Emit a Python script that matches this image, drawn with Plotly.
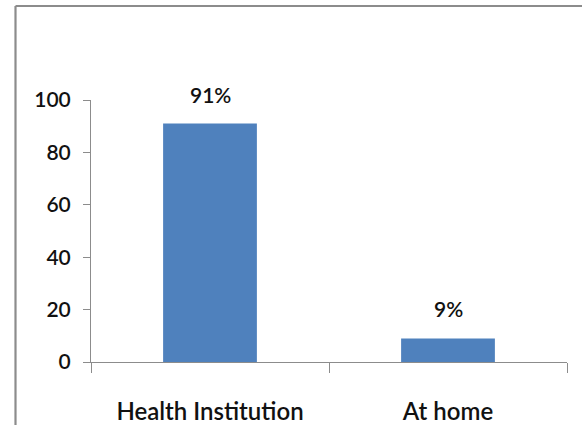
import plotly.graph_objects as go

# Place of delivery, share of respondents (%)
categories = ["Health Institution", "At home"]
values = [91, 9]
value_labels = ["91%", "9%"]
y_ticks = [0, 20, 40, 60, 80, 100]

BAR_COLOR = "#4F81BD"
AXIS_COLOR = "#8C8C8C"
TEXT_COLOR = "#111111"
FONT = "Lato, Liberation Sans, Arial, sans-serif"

W, H = 582, 425
ML, MR, MT, MB = 91, 15, 100, 63
PW, PH = W - ML - MR, H - MT - MB


def px_x(px):
    return (px - ML) / PW


def px_y(py):
    return (H - MB - py) / PH


fig = go.Figure(
    go.Bar(
        x=categories,
        y=values,
        marker=dict(color=BAR_COLOR, line=dict(width=0)),
        hoverinfo="skip",
    )
)

for cat, val, lab in zip(categories, values, value_labels):
    fig.add_annotation(
        x=cat, y=val, text=lab, showarrow=False,
        yanchor="bottom", yshift=15,
        font=dict(family=FONT, size=21, color=TEXT_COLOR, weight=600),
    )

# chart frame (left and top edges)
fig.add_shape(type="line", xref="paper", yref="paper",
              x0=px_x(15.5), x1=px_x(15.5), y0=px_y(6), y1=px_y(430),
              line=dict(color=AXIS_COLOR, width=2.2))
fig.add_shape(type="line", xref="paper", yref="paper",
              x0=px_x(15.5), x1=px_x(590), y0=px_y(6), y1=px_y(6),
              line=dict(color=AXIS_COLOR, width=2.2))

fig.update_layout(
    width=W, height=H,
    margin=dict(l=ML, r=MR, t=MT, b=MB, pad=0, autoexpand=False),
    paper_bgcolor="white", plot_bgcolor="white",
    bargap=0.606,
    showlegend=False,
    font=dict(family=FONT, color=TEXT_COLOR),
)
fig.update_xaxes(
    range=[-0.5, 1.5], automargin=False,
    showline=True, linecolor=AXIS_COLOR, linewidth=1,
    ticks="outside", tickson="boundaries", ticklen=10, tickcolor=AXIS_COLOR,
    tickfont=dict(size=24, family=FONT, color=TEXT_COLOR, weight=600),
    ticklabelstandoff=28,
    showgrid=False, zeroline=False,
)
fig.update_yaxes(
    range=[0, 100], tickvals=y_ticks, automargin=False,
    showline=True, linecolor=AXIS_COLOR, linewidth=1,
    ticks="outside", ticklen=7, tickcolor=AXIS_COLOR,
    tickfont=dict(size=21, family=FONT, color=TEXT_COLOR, weight=600),
    ticklabelstandoff=8,
    showgrid=False, zeroline=False,
)

fig.write_html("out.html")
